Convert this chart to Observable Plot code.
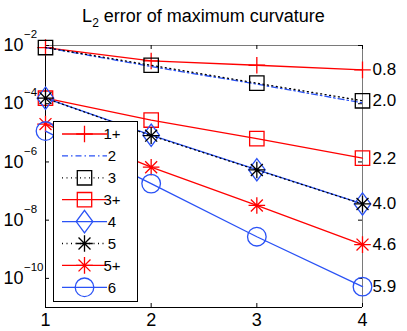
<!DOCTYPE html>
<html><head><meta charset="utf-8">
<script src="https://cdn.jsdelivr.net/npm/d3@7"></script>
<script src="https://cdn.jsdelivr.net/npm/@observablehq/plot@0.6"></script>
<style>
body{margin:0;background:#fff;font-family:"Liberation Sans",Arial,Helvetica,sans-serif;}
#wrap{width:407px;height:331px;position:relative;overflow:hidden;}
#title{height:30px;box-sizing:border-box;padding-top:6px;text-align:center;font-size:18px;line-height:20px;color:#000;white-space:nowrap;}
#title sub{font-size:12px;vertical-align:-5px;line-height:0;}
#chart svg{display:block;overflow:visible;}
</style></head><body>
<div id="wrap"><div id="title">L<sub>2</sub> error of maximum curvature</div><div id="chart"></div></div>
<script>
// ---- data ----
const xs = [1, 2, 3, 4];
const names = ["1+", "2", "3", "3+", "4", "5", "5+", "6"];
const v1p = [8.5e-3, 2.95e-3, 2.1e-3, 1.45e-3];
const v2  = [8.5e-3, 1.9e-3, 4.7e-4, 1.07e-4];
const v3  = [8.5e-3, 2.1e-3, 5.1e-4, 1.26e-4];
const v3p = [1.55e-4, 2.75e-5, 6.3e-6, 1.35e-6];
const v4  = [1.55e-4, 8.3e-6, 5.4e-7, 3.6e-8];
const v5  = [1.55e-4, 8.0e-6, 5.3e-7, 3.6e-8];
const v5p = [2.0e-5, 6.6e-7, 3.2e-8, 1.45e-9];
const v6  = [1.15e-5, 1.8e-7, 2.7e-9, 5.2e-11];
const orderLabels = ["0.8", "2.0", "2.2", "4.0", "4.6", "5.9"];
const orderSeries = ["1+", "3", "3+", "5", "5+", "6"];
const yTicks = [1e-2, 1e-4, 1e-6, 1e-8, 1e-10];
const yExps = ["\u22122", "\u22124", "\u22126", "\u22128", "\u221210"];
const xTickLabels = ["1", "2", "3", "4"];

// ---- symbols ----
const plusSym = {draw(c){const r=8.3;c.moveTo(-r,0);c.lineTo(r,0);c.moveTo(0,-r);c.lineTo(0,r);}};
const squareSym = {draw(c){const r=7.2;c.moveTo(-r,-r);c.lineTo(r,-r);c.lineTo(r,r);c.lineTo(-r,r);c.closePath();}};
const diamondSym = {draw(c){const w=8.3,h=11.2;c.moveTo(0,-h);c.lineTo(w,0);c.lineTo(0,h);c.lineTo(-w,0);c.closePath();}};
const starSym = {draw(c){const r=8.3,d=r*0.72;c.moveTo(-r,0);c.lineTo(r,0);c.moveTo(0,-r);c.lineTo(0,r);c.moveTo(-d,-d);c.lineTo(d,d);c.moveTo(-d,d);c.lineTo(d,-d);}};
const circleSym = {draw(c){const r=9.3;c.moveTo(r,0);c.arc(0,0,r,0,2*Math.PI);c.closePath();}};

const RED = "#ff0000", BLUE = "#2a52f5", BLACK = "#000000";
const valuesByName = {"1+":v1p,"2":v2,"3":v3,"3+":v3p,"4":v4,"5":v5,"5+":v5p,"6":v6};
const style = {
  "1+": {color:RED, dash:null, sym:plusSym},
  "2":  {color:BLUE, dash:"6,3,1.5,3", sym:null},
  "3":  {color:BLACK, dash:"1,3.5", sym:squareSym},
  "3+": {color:RED, dash:null, sym:squareSym},
  "4":  {color:BLUE, dash:null, sym:diamondSym},
  "5":  {color:BLACK, dash:"1,3.5", sym:starSym},
  "5+": {color:RED, dash:null, sym:starSym},
  "6":  {color:BLUE, dash:null, sym:circleSym}
};

const W = 407, H = 301, ML = 45, MR = 45, MT = 15, MB = 24;
const FW = W - ML - MR, FH = H - MT - MB;

const marks = [
  Plot.ruleX([4], {stroke:"#7a7a7a", strokeWidth:1}),
  Plot.ruleY([1e-2], {stroke:"#7a7a7a", strokeWidth:1}),
  Plot.ruleX([1], {stroke:"#000", strokeWidth:1}),
  Plot.ruleY([1e-11], {stroke:"#000", strokeWidth:1}),
  Plot.tickX(xs, {x:d=>d, insetTop:FH-4, stroke:"#000"}),
  Plot.tickX(xs, {x:d=>d, insetBottom:FH-4, stroke:"#000"}),
  Plot.tickY(yTicks, {y:d=>d, insetRight:FW-4, stroke:"#000"}),
  Plot.tickY(yTicks, {y:d=>d, insetLeft:FW-4, stroke:"#000"}),
  Plot.text(xs, {x:d=>d, text:(d,i)=>xTickLabels[i], frameAnchor:"bottom", dy:18, fontSize:18, fill:"#000"}),
  Plot.text(yTicks, {y:d=>d, text:()=>"10", frameAnchor:"left", dx:-42, textAnchor:"start", fontSize:18, fill:"#000"}),
  Plot.text(yTicks, {y:d=>d, text:(d,i)=>yExps[i], frameAnchor:"left", dx:-21.5, dy:-11, textAnchor:"start", fontSize:11.5, fill:"#000"})
];

names.forEach(n => {
  const s = style[n];
  const rows = xs.map((x,i)=>({x, y:valuesByName[n][i]}));
  marks.push(Plot.line(rows, {x:"x", y:"y", stroke:s.color, strokeWidth:1.3, strokeDasharray:s.dash || undefined}));
  if (s.sym) marks.push(Plot.dot(rows, {x:"x", y:"y", symbol:s.sym, r:5, stroke:s.color, fill:"none", strokeWidth:1.3}));
});

const lastRows = orderSeries.map((n,i)=>({x:xs[xs.length-1], y:valuesByName[n][xs.length-1], t:orderLabels[i]}));
marks.push(Plot.text(lastRows, {x:"x", y:"y", text:"t", dx:10, textAnchor:"start", fontSize:17, fill:"#000"}));

const svg = Plot.plot({
  width:W, height:H, marginLeft:ML, marginRight:MR, marginTop:MT, marginBottom:MB,
  x:{domain:[1,4], axis:null},
  y:{type:"log", domain:[1e-11,1e-2], axis:null},
  style:{fontFamily:'"Liberation Sans",Arial,Helvetica,sans-serif', background:"white", color:"#000", overflow:"visible"},
  marks
});

// ---- legend ----
const g = d3.select(svg).append("g").attr("font-family",'"Liberation Sans",Arial,Helvetica,sans-serif');
const lx0 = 53, ly0 = 91, lw = 84, lh = 180;
g.append("rect").attr("x",lx0+0.5).attr("y",ly0+0.5).attr("width",lw).attr("height",lh)
  .attr("fill","white").attr("stroke","#000").attr("stroke-width",1);
names.forEach((n,i)=>{
  const s = style[n];
  const cy = ly0 + 13 + i*21.9;
  g.append("line").attr("x1",62).attr("x2",107).attr("y1",cy).attr("y2",cy)
    .attr("stroke",s.color).attr("stroke-width",1.3).attr("stroke-dasharray",s.dash||null);
  if (s.sym) g.append("path").attr("d",d3.symbol().type(s.sym)()).attr("transform",`translate(84.5,${cy})`)
    .attr("fill","none").attr("stroke",s.color).attr("stroke-width",1.3);
  g.append("text").attr("x",112).attr("y",cy).attr("dy","0.36em").attr("font-size",15).attr("fill","#000").text(n);
});

document.getElementById("chart").appendChild(svg);
</script>
</body></html>
